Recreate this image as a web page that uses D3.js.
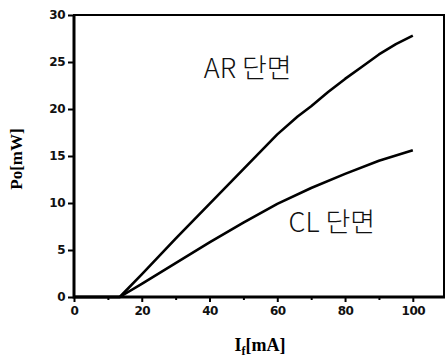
<!DOCTYPE html>
<html>
<head>
<meta charset="utf-8">
<script src="https://cdn.jsdelivr.net/npm/d3@7"></script>
<style>
    body { margin: 0; background: #fff; }
    svg { display: block; }
    .tick text { font-family: "DejaVu Sans", sans-serif; font-weight: bold; font-size: 12px; }
</style>
</head>
<body>
<div id="chart"></div>
<script>
// current [mA] and output power [mW]
var currentAR = [0, 13.5, 20, 30, 40, 50, 60, 66, 70, 75, 80, 85, 90, 95, 100];
var powerAR   = [0, 0, 2.4, 6.2, 9.9, 13.6, 17.3, 19.2, 20.3, 21.8, 23.2, 24.5, 25.8, 26.9, 27.8];
var currentCL = [0, 13.5, 20, 30, 40, 50, 60, 70, 80, 90, 100];
var powerCL   = [0, 0, 1.4, 3.6, 5.8, 7.9, 9.9, 11.6, 13.1, 14.5, 15.6];

var xTicks = [0, 20, 40, 60, 80, 100];
var xMinorTicks = [10, 30, 50, 70, 90];
var yTicks = [0, 5, 10, 15, 20, 25, 30];

var labels = [
    {text: "AR 단면", x: 38.3, y: 23.3},
    {text: "CL 단면", x: 63.3, y: 6.9}
];

var width = 446,
    height = 359,
    margin = {top: 15, right: 0, bottom: 62, left: 74};

var svg = d3.select("#chart")
            .append("svg")
            .attr("width", width)
            .attr("height", height);

var x = d3.scaleLinear().domain([0, 109.5]).range([margin.left, width - 1]),
    y = d3.scaleLinear().domain([0, 30]).range([height - margin.bottom, margin.top]);

// x axis
var xAxis = svg.append("g")
               .attr("transform", `translate(0,${y(0)})`)
               .call(d3.axisBottom(x).tickValues(xTicks).tickSize(5).tickPadding(4));
xAxis.append("g")
     .call(d3.axisBottom(x).tickValues(xMinorTicks).tickSize(3).tickFormat(""));

// y axis
var yAxis = svg.append("g")
               .attr("transform", `translate(${x(0)},0)`)
               .call(d3.axisLeft(y).tickValues(yTicks).tickSize(6).tickPadding(3));

svg.selectAll(".domain").remove();
svg.selectAll(".tick line").attr("stroke", "#000").attr("stroke-width", 2);
svg.selectAll(".tick text")
   .attr("fill", "#111")
   .attr("letter-spacing", -0.5);

// frame
svg.append("rect")
   .attr("x", x(0))
   .attr("y", y(30))
   .attr("width", x.range()[1] - x(0) - 1)
   .attr("height", y(0) - y(30))
   .attr("fill", "none")
   .attr("stroke", "#000")
   .attr("stroke-width", 2);
svg.append("path")
   .attr("d", `M${x(0)},${y(30)}V${y(0)}H${x.range()[1]}`)
   .attr("fill", "none")
   .attr("stroke", "#000")
   .attr("stroke-width", 3);

// curves
var line = d3.line()
             .x(function (d) { return x(d[0]); })
             .y(function (d) { return y(d[1]); });

[[currentAR, powerAR], [currentCL, powerCL]].forEach(function (s) {
    svg.append("path")
       .datum(d3.zip(s[0], s[1]))
       .attr("d", line)
       .attr("fill", "none")
       .attr("stroke", "#000")
       .attr("stroke-width", 2.6)
       .attr("stroke-linejoin", "round");
});

// curve labels
svg.selectAll(".curve-label")
   .data(labels)
   .enter()
   .append("text")
   .attr("class", "curve-label")
   .attr("x", function (d) { return x(d.x); })
   .attr("y", function (d) { return y(d.y); })
   .attr("font-family", "'Noto Sans CJK KR', sans-serif")
   .attr("font-size", 27)
   .attr("font-weight", 300)
   .attr("fill", "#111")
   .text(function (d) { return d.text; });

// axis titles
svg.append("text")
   .attr("transform", `translate(22,159) rotate(-90)`)
   .attr("text-anchor", "middle")
   .attr("font-family", "'Liberation Serif', 'Times New Roman', serif")
   .attr("font-size", 17)
   .attr("font-weight", "bold")
   .text("Po[mW]");

var xTitle = svg.append("text")
                .attr("x", 260)
                .attr("y", 351)
                .attr("text-anchor", "middle")
                .attr("font-family", "'Liberation Serif', 'Times New Roman', serif")
                .attr("font-size", 18)
                .attr("font-weight", "bold");
xTitle.append("tspan").text("I");
xTitle.append("tspan").attr("dy", 4).attr("font-size", 12).text("f");
xTitle.append("tspan").attr("dy", -4).text("[mA]");
</script>
</body>
</html>
